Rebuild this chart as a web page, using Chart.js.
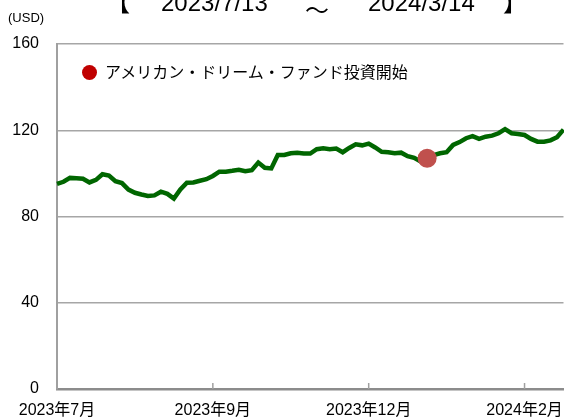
<!DOCTYPE html>
<html>
<head>
<meta charset="utf-8">
<script src="https://cdn.jsdelivr.net/npm/chart.js@4"></script>
<style>
body{margin:0;background:#fff;}
#wrap{position:relative;width:564px;height:420px;overflow:hidden;font-family:"Liberation Sans","Noto Sans CJK JP",sans-serif;color:#000;}
#chart{position:absolute;left:0;top:0;}
.t{position:absolute;white-space:nowrap;}
.title{font-size:24px;line-height:24px;top:-9px;}
#unit{left:8px;top:10px;font-size:13px;line-height:16px;}
#legend{left:82px;top:62px;font-family:"Noto Sans CJK JP",sans-serif;font-size:16px;line-height:18px;}
#legend .dot{display:inline-block;width:15px;height:15px;border-radius:50%;background:#c00000;vertical-align:-2px;margin-right:8px;}
</style>
</head>
<body>
<div id="wrap">
  <canvas id="chart" width="573" height="420"></canvas>
  <span class="t title" style="left:106px">【</span>
  <span class="t title" style="left:161px">2023/7/13</span>
  <span class="t title" style="left:305px;top:-1px">～</span>
  <span class="t title" style="left:368px">2024/3/14</span>
  <span class="t title" style="left:503px">】</span>
  <span class="t" id="unit">(USD)</span>
  <span class="t" id="legend"><span class="dot"></span>アメリカン・ドリーム・ファンド投資開始</span>
</div>
<script>
// tick labels on the x axis, one every 24 points
var tickLabels=["2023年7月","2023年9月","2023年12月","2024年2月"];
var tickEvery=24;

// price (USD)
var prices=[95.1,96.1,97.9,97.7,97.5,95.8,97.0,99.6,99.0,96.4,
            95.5,92.5,91.0,90.2,89.5,89.8,91.5,90.5,88.3,92.5,
            95.7,95.8,96.6,97.3,98.8,100.8,100.8,101.2,101.7,101.0,
            101.5,105.0,102.6,102.3,108.5,108.5,109.3,109.6,109.2,109.2,
            111.2,111.6,111.2,111.5,109.8,111.8,113.5,113.0,113.8,112.0,
            110.0,109.8,109.3,109.6,108.0,107.2,105.5,107.0,108.5,109.3,
            109.8,113.2,114.5,116.3,117.3,116.0,117.0,117.5,118.6,120.5,
            118.6,118.3,117.8,116.0,114.7,114.7,115.3,116.8,120.3];

// start of investment
var startIndex=57;
var startValue=107;

var labels=prices.map(function(v,i){
    return i%tickEvery===0 && tickLabels[i/tickEvery] ? tickLabels[i/tickEvery] : "";
});
var marker=prices.map(function(v,i){ return i===startIndex ? startValue : null; });

// small tick marks pointing up into the plot
var innerTicks={
    id:"innerTicks",
    afterDraw:function(chart){
        var ctx=chart.ctx, x=chart.scales.x, b=chart.chartArea.bottom;
        ctx.save();
        ctx.strokeStyle="#a0a0a0";
        ctx.lineWidth=1.5;
        labels.forEach(function(l,i){
            if(!l || i===0) return;
            var px=x.getPixelForValue(i);
            ctx.beginPath();
            ctx.moveTo(px,b);
            ctx.lineTo(px,b-6);
            ctx.stroke();
        });
        ctx.restore();
    }
};

new Chart(document.getElementById("chart"),{
    type:"line",
    data:{
        labels:labels,
        datasets:[
            {
                data:marker,
                borderColor:"#c0504d",
                backgroundColor:"#c0504d",
                pointRadius:9.5,
                pointBorderWidth:0,
                showLine:false,
                order:0
            },
            {
                data:prices,
                borderColor:"#006600",
                borderWidth:4.5,
                pointRadius:0,
                tension:0,
                order:1
            }
        ]
    },
    options:{
        responsive:false,
        animation:false,
        layout:{padding:{top:44,right:0,left:0,bottom:0}},
        plugins:{legend:{display:false},tooltip:{enabled:false}},
        scales:{
            x:{
                offset:false,
                grid:{drawOnChartArea:false,drawTicks:false},
                border:{color:"#8c8c8c",width:2.5},
                ticks:{
                    autoSkip:false,
                    maxRotation:0,
                    padding:12,
                    color:"#000",
                    font:{family:"'Liberation Sans','Noto Sans CJK JP'",size:16}
                },
                afterFit:function(s){ s.height=31; s.paddingLeft=0; s.paddingRight=0; }
            },
            y:{
                min:0,
                max:160,
                ticks:{
                    stepSize:40,
                    padding:18,
                    color:"#000",
                    font:{family:"'Liberation Sans'",size:16}
                },
                grid:{color:"#a6a6a6",lineWidth:1.5,drawTicks:false},
                border:{color:"#a0a0a0",width:2},
                afterFit:function(s){ s.width=57; s.paddingTop=0; s.paddingBottom=0; }
            }
        }
    },
    plugins:[innerTicks]
});
</script>
</body>
</html>
